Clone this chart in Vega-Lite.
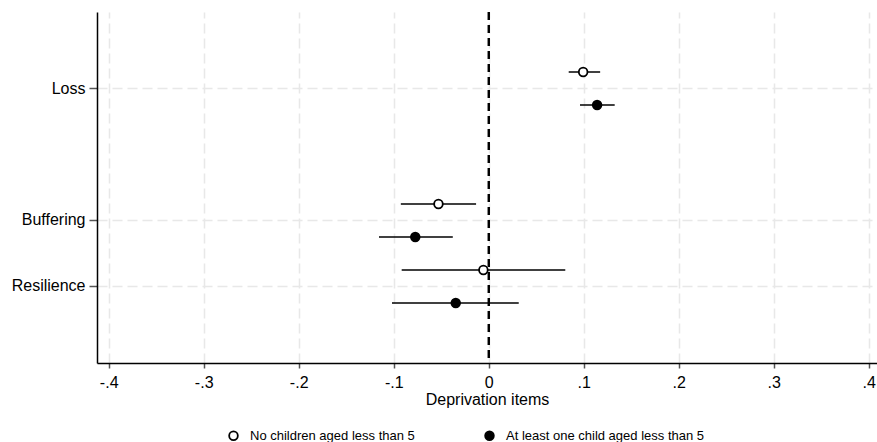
{
  "$schema": "https://vega.github.io/schema/vega-lite/v6.json",
  "autosize": "none",
  "width": 780,
  "height": 351,
  "padding": {"left": 97, "top": 12, "right": 0, "bottom": 79},
  "background": "white",
  "config": {
    "view": {"stroke": null},
    "font": "Liberation Sans",
    "axis": {
      "labelFont": "Liberation Sans",
      "titleFont": "Liberation Sans",
      "labelFontSize": 16,
      "titleFontSize": 16,
      "titleFontWeight": "normal",
      "labelColor": "black",
      "titleColor": "black",
      "domainColor": "black",
      "domainWidth": 1.5,
      "tickColor": "#555555",
      "tickWidth": 1.5,
      "gridColor": "#e8e8e8",
      "gridWidth": 1.5,
      "gridDash": [10, 5]
    },
    "legend": {
      "labelFont": "Liberation Sans",
      "labelFontSize": 13,
      "labelColor": "black",
      "labelLimit": 400
    }
  },
  "data": {
    "values": [
      {"item": "Loss", "group": "No children aged less than 5", "est": 0.0994, "lo": 0.0842, "hi": 0.1173},
      {"item": "Loss", "group": "At least one child aged less than 5", "est": 0.1141, "lo": 0.0961, "hi": 0.1326},
      {"item": "Buffering", "group": "No children aged less than 5", "est": -0.0529, "lo": -0.0925, "hi": -0.0133},
      {"item": "Buffering", "group": "At least one child aged less than 5", "est": -0.0773, "lo": -0.1155, "hi": -0.0378},
      {"item": "Resilience", "group": "No children aged less than 5", "est": -0.0056, "lo": -0.0916, "hi": 0.0806},
      {"item": "Resilience", "group": "At least one child aged less than 5", "est": -0.0347, "lo": -0.1018, "hi": 0.0316}
    ]
  },
  "encoding": {
    "y": {
      "field": "item",
      "type": "nominal",
      "scale": {"type": "band", "domain": ["Loss", " ", "Buffering", "Resilience"], "paddingInner": 0, "paddingOuter": 0.66},
      "axis": {
        "title": null,
        "values": ["Loss", "Buffering", "Resilience"],
        "bandPosition": 0.5,
        "grid": true,
        "tickSize": 8,
        "labelPadding": 4,
        "domain": true
      }
    },
    "yOffset": {
      "field": "group",
      "type": "nominal",
      "scale": {"domain": ["No children aged less than 5", "At least one child aged less than 5"], "paddingInner": 0, "paddingOuter": 0}
    }
  },
  "layer": [
    {
      "mark": {"type": "rule", "color": "black", "strokeWidth": 1.6},
      "encoding": {
        "x": {
          "field": "lo",
          "type": "quantitative",
          "scale": {"domain": [-0.4123, 0.4087], "nice": false, "zero": false},
          "axis": {
            "title": "Deprivation items",
            "values": [-0.4, -0.3, -0.2, -0.1, 0, 0.1, 0.2, 0.3, 0.4],
            "labelExpr": "datum.value == 0 ? '0' : (datum.value < 0 ? '-.' : '.') + abs(round(datum.value * 10))",
            "tickSize": 5,
            "labelPadding": 6,
            "titlePadding": 1
          }
        },
        "x2": {"field": "hi"}
      }
    },
    {
      "mark": {"type": "rule", "color": "black", "strokeWidth": 1.6, "strokeDash": [8, 5]},
      "encoding": {"x": {"datum": 0, "type": "quantitative"}, "y": null, "yOffset": null}
    },
    {
      "mark": {"type": "point", "shape": "circle", "filled": true, "size": 75, "stroke": "black", "strokeWidth": 1.8, "opacity": 1},
      "encoding": {
        "x": {"field": "est", "type": "quantitative"},
        "fill": {
          "field": "group",
          "type": "nominal",
          "scale": {"domain": ["No children aged less than 5", "At least one child aged less than 5"], "range": ["white", "black"]},
          "legend": {
            "title": null,
            "orient": "none",
            "direction": "horizontal",
            "legendX": 130,
            "legendY": 417,
            "padding": 0,
            "symbolType": "circle",
            "symbolSize": 75,
            "symbolStrokeColor": "black",
            "symbolStrokeWidth": 1.8,
            "labelOffset": 10,
            "labelLimit": 400,
            "columnPadding": 66
          }
        }
      }
    }
  ]
}
